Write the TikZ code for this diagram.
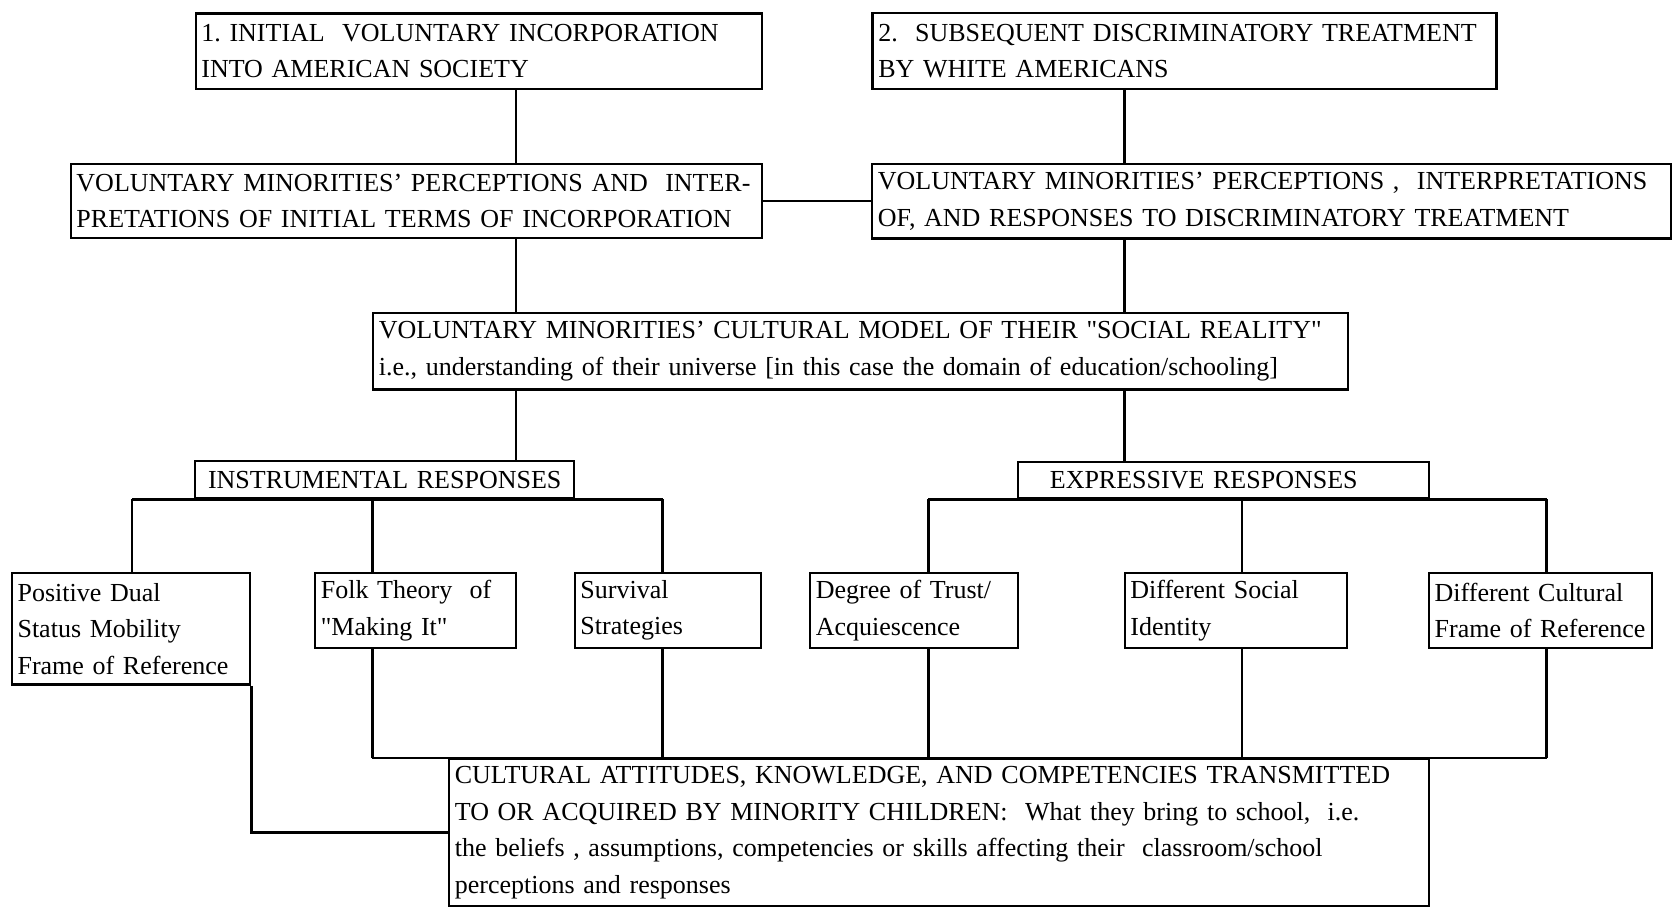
\documentclass[tikz,border=0pt]{standalone}
\usepackage{fontspec}
\setmainfont{Liberation Serif}
\frenchspacing
\begin{document}
\begin{tikzpicture}[x=1cm,y=-1cm,line width=0.7pt,
  box/.style 2 args={draw,anchor=north west,align=left,inner xsep=1.6pt,inner ysep=0pt,
    minimum width=#1cm,text width=#1cm-3.2pt,minimum height=#2cm,
    font=\fontsize{7.4}{10.4}\selectfont}]
\useasboundingbox (0,0) rectangle (16.73,9.07);
\node[box={5.66}{0.754}] (init) at (1.945,0.123) {1. INITIAL\ \ VOLUNTARY INCORPORATION\\INTO AMERICAN SOCIETY};
\node[box={6.24}{0.76}] (subs) at (8.714,0.117) {2.\ \ SUBSEQUENT DISCRIMINATORY TREATMENT\\BY WHITE AMERICANS};
\node[box={6.91}{0.74}] (percL) at (0.696,1.627) {VOLUNTARY MINORITIES' PERCEPTIONS AND\ \ INTER-\\PRETATIONS OF INITIAL TERMS OF INCORPORATION};
\node[box={7.99}{0.746}] (percR) at (8.71,1.627) {VOLUNTARY MINORITIES' PERCEPTIONS ,\ \ INTERPRETATIONS\\OF, AND RESPONSES TO DISCRIMINATORY TREATMENT};
\node[box={9.75}{0.766}] (model) at (3.72,3.117) {VOLUNTARY MINORITIES' CULTURAL MODEL OF THEIR \textquotedbl SOCIAL REALITY\textquotedbl\\i.e., understanding of their universe [in this case the domain of education/schooling]};
\node[box={3.79}{0.37},align=center] (instr) at (1.94,4.60) {INSTRUMENTAL RESPONSES};
\node[box={4.11}{0.363}] (expr) at (10.17,4.607) {\hspace*{1em}EXPRESSIVE RESPONSES};
\node[box={2.383}{1.116}] (pdual) at (0.107,5.717) {Positive Dual\\Status Mobility\\Frame of Reference};
\node[box={2.01}{0.75}] (folk) at (3.14,5.717) {Folk Theory\ \ of\\\textquotedbl Making It\textquotedbl};
\node[box={1.86}{0.75}] (surv) at (5.736,5.717) {Survival\\Strategies};
\node[box={2.08}{0.75}] (trust) at (8.09,5.717) {Degree of Trust/\\Acquiescence};
\node[box={2.225}{0.75}] (ident) at (11.235,5.717) {Different Social\\Identity};
\node[box={2.23}{0.75}] (frame) at (14.278,5.717) {Different Cultural\\Frame of Reference};
\node[box={9.80}{1.47}] (cult) at (4.48,7.58) {CULTURAL ATTITUDES, KNOWLEDGE, AND COMPETENCIES TRANSMITTED\\TO OR ACQUIRED BY MINORITY CHILDREN:\ \ What they bring to school,\ \ i.e.\\the beliefs , assumptions, competencies or skills affecting their\ \ classroom/school\\perceptions and responses};
\coordinate (cL) at (5.16,0);
\coordinate (cR) at (11.246,0);
\coordinate (cA) at (1.318,0);
\coordinate (cB) at (3.723,0);
\coordinate (cC) at (6.626,0);
\coordinate (cD) at (9.284,0);
\coordinate (cE) at (12.418,0);
\coordinate (cF) at (15.467,0);
\draw (init.south -| cL) -- (percL.north -| cL) (percL.south -| cL) -- (model.north -| cL) (model.south -| cL) -- (instr.north -| cL);
\draw (subs.south -| cR) -- (percR.north -| cR) (percR.south -| cR) -- (model.north -| cR) (model.south -| cR) -- (expr.north -| cR);
\draw (percL.east) -- (percL.east -| percR.west);
\draw (instr.south -| cA) -- (instr.south -| cC);
\draw (expr.south -| cD) -- (expr.south -| cF);
\foreach \c/\n in {cA/pdual,cB/folk,cC/surv}
  \draw (instr.south -| \c) -- (\n.north -| \c);
\foreach \c/\n in {cD/trust,cE/ident,cF/frame}
  \draw (expr.south -| \c) -- (\n.north -| \c);
\draw (cult.north -| cB) -- (cult.north -| cF);
\foreach \c/\n in {cB/folk,cC/surv,cD/trust,cE/ident,cF/frame}
  \draw (\n.south -| \c) -- (cult.north -| \c);
\draw (pdual.south east) |- (cult.west);
\end{tikzpicture}
\end{document}
